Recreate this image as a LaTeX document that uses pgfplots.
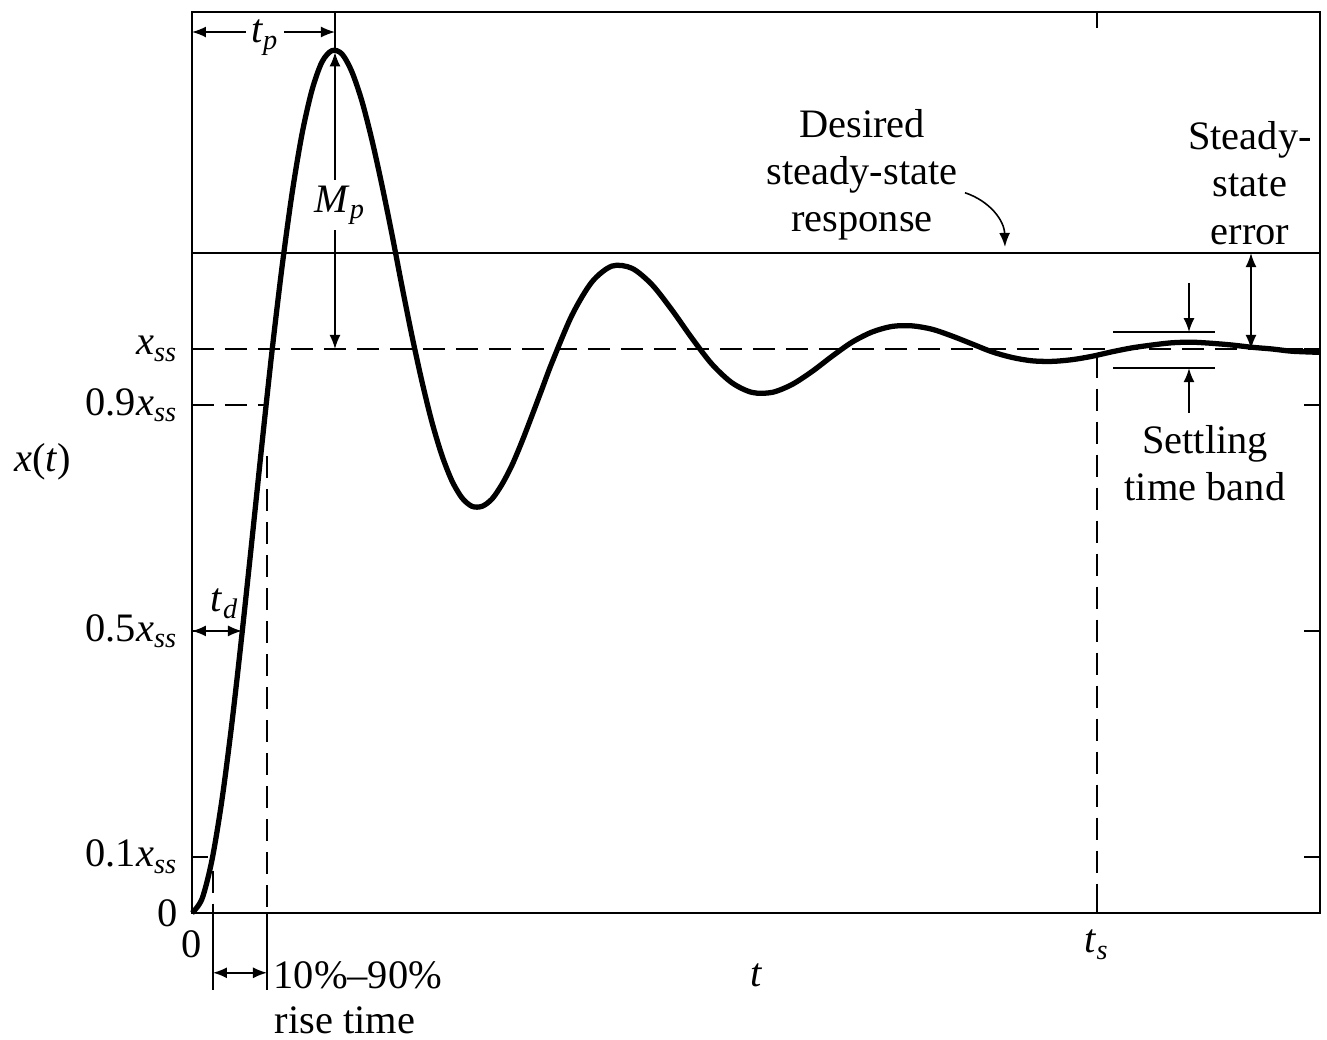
\documentclass[border=0pt]{standalone}
\usepackage{fontspec}
\setmainfont{Liberation Serif}
\usepackage{pgfplots}
\pgfplotsset{compat=1.18}
\usetikzlibrary{arrows.meta}
\newcommand{\xss}{\textit{x}\textsubscript{\textit{ss}}}
\newcommand{\sub}[2]{\textit{#1}\textsubscript{\textit{#2}}}
\begin{document}
\fontsize{11.5pt}{13.4pt}\selectfont
\begin{tikzpicture}[
  arr/.style={line width=0.45pt,{Latex[length=1.4mm,width=1.1mm]}-{Latex[length=1.4mm,width=1.1mm]}},
  arrR/.style={line width=0.45pt,-{Latex[length=1.4mm,width=1.1mm]}},
  dsh/.style={line width=0.5pt,dash pattern=on 2.2mm off 1.1mm}]
\useasboundingbox (-19.2mm,-12.7mm) rectangle (113.5mm,91.3mm);
\begin{axis}[
  scale only axis, width=112.8mm, height=90.1mm,
  xmin=0, xmax=11.28, ymin=0, ymax=1.5975,
  clip=false,
  axis line style={line width=0.6pt},
  tick style={line width=0.6pt, black},
  tick align=inside, major tick length=1.6mm,
  ytick={0,0.1,0.5,0.9,1},
  yticklabels={0,0.1\xss,0.5\xss,0.9\xss,\xss},
  xtick={0,9.05},
  xticklabels={0,\sub{t}{s}},
  xticklabel style={yshift=-0.3mm},
]
% response
\addplot[line width=1.5pt, smooth, black] coordinates {
(0,0) (0.1,0.025) (0.2,0.094) (0.3,0.201) (0.4,0.338) (0.5,0.495) (0.6,0.662)
(0.7,0.832) (0.8,0.996) (0.9,1.145) (1.0,1.275) (1.1,1.381) (1.2,1.459)
(1.3,1.509) (1.4,1.529) (1.5,1.523) (1.6,1.491) (1.7,1.439) (1.8,1.370)
(1.9,1.290) (2.0,1.203) (2.1,1.111) (2.2,1.023) (2.3,0.942) (2.4,0.870)
(2.5,0.811) (2.6,0.766) (2.7,0.736) (2.8,0.721) (2.9,0.721) (3.0,0.734)
(3.1,0.760) (3.2,0.794) (3.3,0.836) (3.4,0.882) (3.5,0.929)
(3.6,0.976) (3.8,1.060) (4.0,1.119) (4.2,1.147)
(4.4,1.143) (4.6,1.114) (4.8,1.069) (5.0,1.019) (5.2,0.973) (5.4,0.940)
(5.6,0.923) (5.8,0.923) (6.0,0.937) (6.2,0.960) (6.4,0.987) (6.6,1.012)
(6.8,1.030) (7.0,1.040) (7.2,1.041) (7.4,1.035) (7.6,1.023) (7.8,1.009)
(8.0,0.995) (8.2,0.985) (8.4,0.979) (8.6,0.978) (8.8,0.981) (9.0,0.987)
(9.2,0.995) (9.4,1.002) (9.6,1.007) (9.8,1.011) (10.0,1.012) (10.2,1.010)
(10.4,1.007) (10.6,1.003) (10.8,1.000) (11.0,0.996) (11.28,0.994)
};
% desired steady state
\addplot[line width=0.55pt, black] coordinates {(0,1.170) (11.28,1.170)};
% x_ss dashed
\addplot[dsh, black] coordinates {(0,1) (11.28,1)};
% 0.9 dashed
\addplot[dsh, black] coordinates {(0,0.9) (0.74,0.9)};
% rise time verticals
\addplot[dsh, black] coordinates {(0.75,0.81) (0.75,0)};
\addplot[line width=0.5pt, black] coordinates {(0.75,0) (0.75,-0.1365)};
\addplot[dsh, black] coordinates {(0.21,0.075) (0.21,0)};
\addplot[line width=0.5pt, black] coordinates {(0.21,0) (0.21,-0.1365)};
\draw[arr] (axis cs:0.21,-0.106) -- (axis cs:0.75,-0.106);
\node[anchor=west, inner sep=0pt] at (axis cs:0.81,-0.110) {10\%--90\%};
\node[inner sep=0pt] at (axis cs:1.53,-0.190) {rise time};
% t_s
\addplot[dsh, black] coordinates {(9.05,0.988) (9.05,0)};
% t_p
\addplot[line width=0.5pt, black] coordinates {(1.43,1.5975) (1.43,1.530)};
\draw[arr] (axis cs:0,1.562) -- (axis cs:1.43,1.562);
\node[fill=white, inner sep=1.5pt] at (axis cs:0.73,1.552) {\sub{t}{p}};
% M_p
\draw[arr] (axis cs:1.43,1.0) -- (axis cs:1.43,1.526);
\node[fill=white, inner sep=1.5pt] at (axis cs:1.48,1.255) {\sub{M}{p}};
% t_d
\draw[arr] (axis cs:0,0.5) -- (axis cs:0.50,0.5);
\node at (axis cs:0.33,0.548) {\sub{t}{d}};
% settling band
\addplot[line width=0.5pt, black] coordinates {(9.21,1.030) (10.23,1.030)};
\addplot[line width=0.5pt, black] coordinates {(9.21,0.966) (10.23,0.966)};
\draw[arrR] (axis cs:9.97,1.117) -- (axis cs:9.97,1.030);
\draw[arrR] (axis cs:9.97,0.887) -- (axis cs:9.97,0.966);
% steady-state error
\draw[arr] (axis cs:10.59,1.0) -- (axis cs:10.59,1.170);
% texts
\node[align=center] at (axis cs:6.70,1.309) {Desired\\steady-state\\response};
\node[align=center] at (axis cs:10.58,1.294) {Steady-\\state\\error};
\node[align=center] at (axis cs:10.13,0.798) {Settling\\time band};
\draw[arrR, bend left=35] (axis cs:7.73,1.277) to (axis cs:8.13,1.181);
% axis labels
\node at (axis cs:-1.49,0.80) {\textit{x}(\textit{t})};
\node at (axis cs:5.65,-0.110) {\textit{t}};
\end{axis}
\end{tikzpicture}
\end{document}
